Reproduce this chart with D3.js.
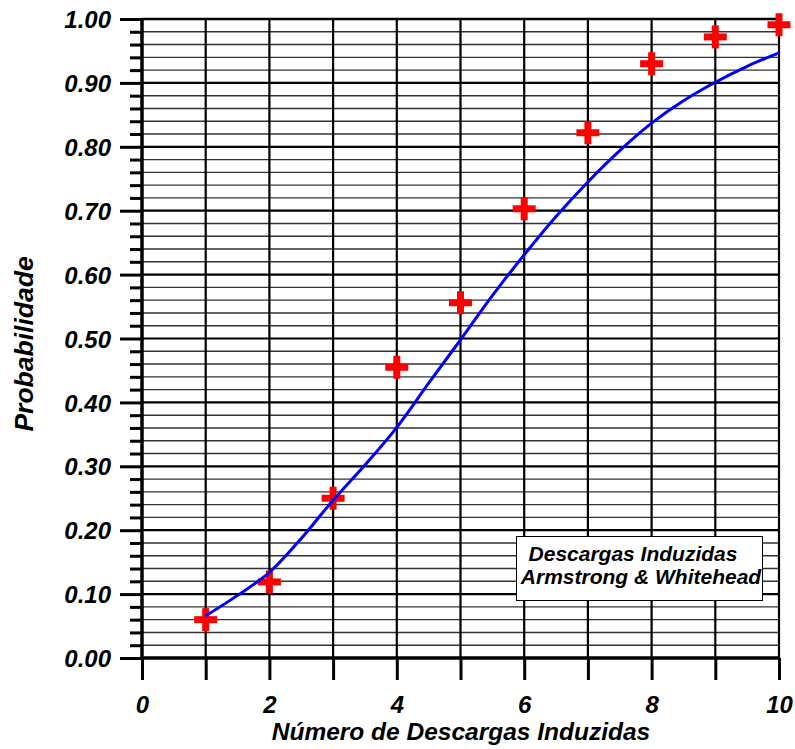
<!DOCTYPE html>
<html><head><meta charset="utf-8">
<script src="https://cdn.jsdelivr.net/npm/d3@7"></script>
<style>body{margin:0;background:#fff}svg{display:block}text{font-family:"Liberation Sans",Arial,sans-serif;font-weight:bold;font-style:italic}</style>
</head><body>
<script>
// Observed points (Armstrong & Whitehead)
const pointX = [1,2,3,4,5,6,7,8,9,10];
const pointY = [0.060,0.119,0.250,0.455,0.556,0.703,0.822,0.930,0.972,0.991];
// Fitted curve
const curveX = [1,1.5,2,2.5,3,3.5,4,4.5,5,5.5,6,6.5,7,7.5,8,8.5,9,9.5,10];
const curveY = [0.066,0.098,0.134,0.187,0.247,0.302,0.361,0.430,0.498,0.567,0.631,0.691,0.745,0.794,0.837,0.872,0.901,0.926,0.947];
const xTickLabels = [0,2,4,6,8,10];
const yTickLabels = [0,0.1,0.2,0.3,0.4,0.5,0.6,0.7,0.8,0.9,1.0];
const legendLines = ["Descargas Induzidas","Armstrong & Whitehead"];
const xTitle = "Número de Descargas Induzidas";
const yTitle = "Probabilidade";

const W=795,H=749, L=142,R=779,T=19,B=658;
const svg=d3.select("body").append("svg").attr("width",W).attr("height",H);
const x=d3.scaleLinear().domain([0,10]).range([L,R]);
const y=d3.scaleLinear().domain([0,1]).range([B,T]);

const minorY=d3.range(0,51).map(i=>i/50);
const g=svg.append("g");
g.selectAll(".hmin").data(minorY.filter((d,i)=>i%5!==0)).enter().append("line")
 .attr("x1",L).attr("x2",R).attr("y1",d=>y(d)).attr("y2",d=>y(d))
 .attr("stroke","#333").attr("stroke-width",1.4);
g.selectAll(".hmaj").data(yTickLabels.slice(1)).enter().append("line")
 .attr("x1",L).attr("x2",R).attr("y1",d=>y(d)).attr("y2",d=>y(d))
 .attr("stroke","#000").attr("stroke-width",d=>d===1?2.5:2.2);
g.selectAll(".v").data(d3.range(1,11)).enter().append("line")
 .attr("x1",d=>x(d)).attr("x2",d=>x(d)).attr("y1",T).attr("y2",B)
 .attr("stroke","#000").attr("stroke-width",2.2);

// y axis
const yAxis=d3.axisLeft(y).tickValues(yTickLabels).tickFormat(d3.format(".2f")).tickSize(22).tickPadding(9);
const ya=svg.append("g").attr("transform",`translate(${L},0)`).call(yAxis);
ya.select(".domain").remove();
ya.selectAll(".tick line").attr("stroke","#000").attr("stroke-width",3);
ya.selectAll(".tick text").attr("font-size",24).attr("fill","#000").attr("dy","0.36em");
const yMinor=d3.axisLeft(y).tickValues(minorY.filter((d,i)=>i%5!==0)).tickSize(12).tickFormat("");
const ym=svg.append("g").attr("transform",`translate(${L},0)`).call(yMinor);
ym.select(".domain").remove();
ym.selectAll(".tick line").attr("stroke","#000").attr("stroke-width",3);

// x axis
const xAxis=d3.axisBottom(x).tickValues(d3.range(0,11)).tickSize(22).tickPadding(16)
  .tickFormat(d=>xTickLabels.includes(d)?d:"");
const xa=svg.append("g").attr("transform",`translate(0,${B})`).call(xAxis);
xa.select(".domain").remove();
xa.selectAll(".tick line").attr("stroke","#000").attr("stroke-width",3);
xa.selectAll(".tick text").attr("font-size",24).attr("fill","#000");

// frame lines
svg.append("line").attr("x1",L).attr("x2",L).attr("y1",T-1).attr("y2",B+1.5).attr("stroke","#000").attr("stroke-width",3.5);
svg.append("line").attr("x1",L-1.5).attr("x2",R+1).attr("y1",B).attr("y2",B).attr("stroke","#000").attr("stroke-width",3.5);

// points
const pts=pointX.map((d,i)=>[d,pointY[i]]);
const pg=svg.append("g");
pts.forEach(p=>{
  const cx=x(p[0]),cy=y(p[1]);
  pg.append("line").attr("x1",cx-11.5).attr("x2",cx+11.5).attr("y1",cy).attr("y2",cy).attr("stroke","#ff0000").attr("stroke-width",7);
  pg.append("line").attr("x1",cx).attr("x2",cx).attr("y1",cy-11.5).attr("y2",cy+11.5).attr("stroke","#ff0000").attr("stroke-width",7);
});

// curve
const line=d3.line().x(d=>x(d[0])).y(d=>y(d[1])).curve(d3.curveCatmullRom);
svg.append("path").datum(curveX.map((d,i)=>[d,curveY[i]])).attr("d",line)
 .attr("fill","none").attr("stroke","#0000ff").attr("stroke-width",3);

// legend
const lg=svg.append("g");
lg.append("rect").attr("x",516.5).attr("y",536.5).attr("width",246).attr("height",64)
 .attr("fill","#fff").attr("stroke","#000").attr("stroke-width",1);
lg.append("text").attr("x",633).attr("y",561).attr("text-anchor","middle").attr("font-size",21).text(legendLines[0]);
lg.append("text").attr("x",641).attr("y",584).attr("text-anchor","middle").attr("font-size",21).text(legendLines[1]);

// titles
svg.append("text").attr("x",461).attr("y",740).attr("text-anchor","middle").attr("font-size",24.5).text(xTitle);
svg.append("text").attr("transform",`translate(33,344) rotate(-90)`).attr("text-anchor","middle").attr("font-size",26.5).text(yTitle);
</script>
</body></html>
